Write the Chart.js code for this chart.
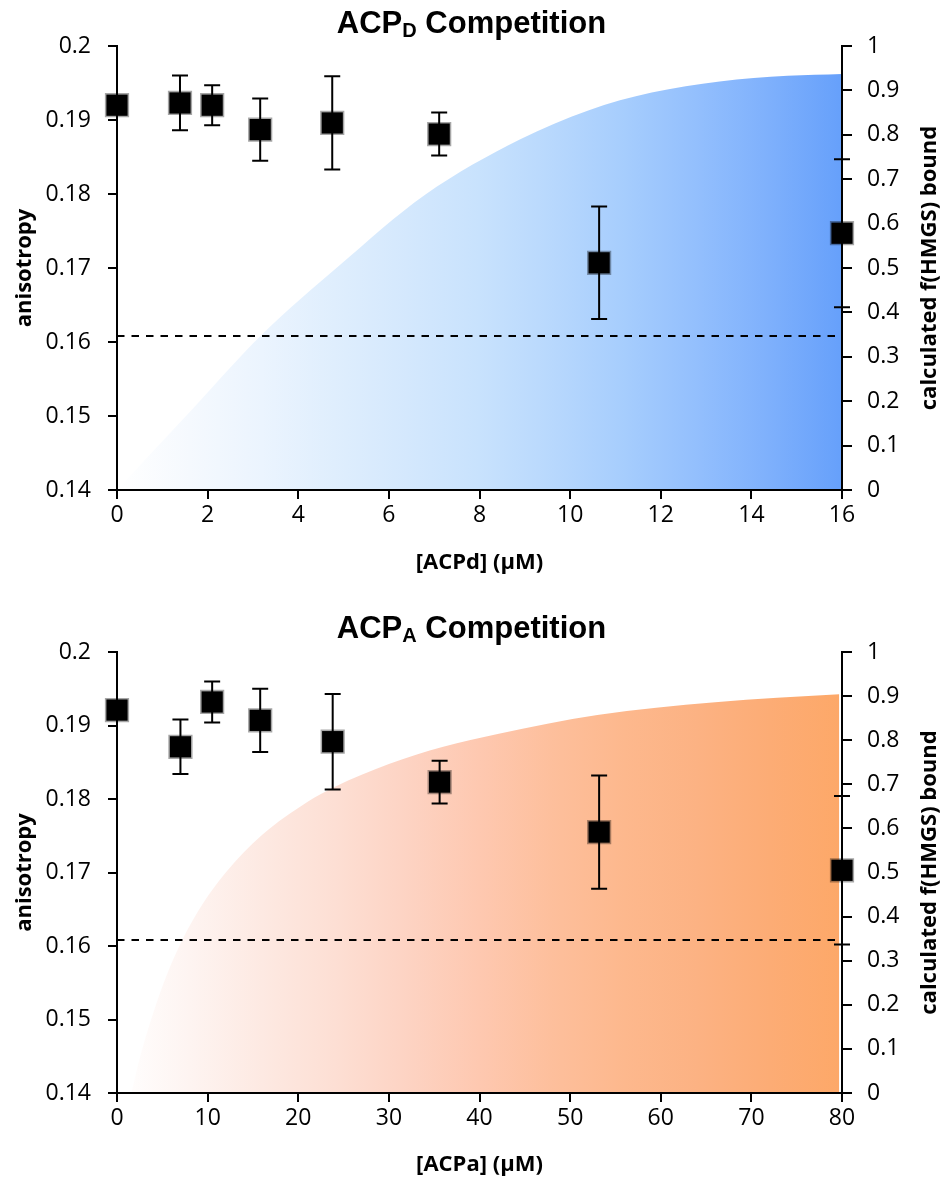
<!DOCTYPE html>
<html>
<head>
<meta charset="utf-8">
<script src="https://cdn.jsdelivr.net/npm/chart.js@4"></script>
<style>
  body { margin: 0; background: #fff; }
  .wrap { position: relative; width: 943px; height: 1183px; }
  canvas { position: absolute; left: 0; }
  #acpd { top: 0; }
  #acpa { top: 592px; }
  .ttl {
    position: absolute; left: 0; width: 943px; text-align: center; z-index: 2; white-space: nowrap;
    font: bold 31px "Liberation Sans", Arial, sans-serif; line-height: 31px; color: #000;
  }
  .ttl sub { font-size: 20px; vertical-align: -4px; line-height: 0; }
</style>
</head>
<body>
<div class="wrap">
  <div class="ttl" style="top:7px">ACP<sub>D</sub> Competition</div>
  <canvas id="acpd" width="943" height="592"></canvas>
  <div class="ttl" style="top:612px">ACP<sub>A</sub> Competition</div>
  <canvas id="acpa" width="943" height="591"></canvas>
</div>
<script>
// ACPd competition: measured anisotropy
const concD = [0, 1.39, 2.1, 3.16, 4.75, 7.11, 10.64, 16];
const anisoD = [0.192, 0.1923, 0.192, 0.1887, 0.1896, 0.1881, 0.1707, 0.1747];
const errD = [0, 0.0037, 0.0027, 0.0042, 0.0063, 0.0029, 0.0076, 0.01];
// calculated fraction HMGS bound
const curveDx = [0, 1.6, 3.2, 4.9, 6.8, 8.9, 10.4, 11.8, 13.3, 14.8, 16];
const curveDy = [0, 0.175, 0.35, 0.505, 0.665, 0.79, 0.855, 0.895, 0.92, 0.933, 0.937];

// ACPa competition
const concA = [0, 7, 10.5, 15.8, 23.8, 35.6, 53.2, 80];
const anisoA = [0.1921, 0.1871, 0.1932, 0.1907, 0.1878, 0.1823, 0.1755, 0.1703];
const errA = [0, 0.0037, 0.0028, 0.0043, 0.0065, 0.0029, 0.0077, 0.0101];
const curveAx = [1.6, 2.5, 3.9, 5.5, 7.2, 9.5, 12, 16, 21, 24, 30, 36, 42, 53, 66, 79.7];
const curveAy = [0, 0.078, 0.175, 0.268, 0.347, 0.43, 0.5, 0.585, 0.66, 0.694, 0.746, 0.785, 0.814, 0.857, 0.886, 0.904];

// baseline anisotropy (dashed)
const baseline = 0.1608;

const blueStops = ["#ffffff", "#f5f9fe", "#ebf4fe", "#dfeefd", "#d4e8fd", "#c8e2fd", "#b8d8fd", "#a6cdfd", "#93bffd", "#7eb0fc", "#66a0fb"];
const orangeStops = ["#ffffff", "#fef4f1", "#fde9e2", "#fddfd4", "#fdd3c3", "#fec8b0", "#fdbf9c", "#fdb88d", "#fcb283", "#fcac75", "#fda868"];

const tickFont = { family: "'Open Sans', sans-serif", size: 23 };
const titleFont = { family: "'Open Sans', sans-serif", size: 22, weight: "bold" };

const errorBars = {
  id: "errorBars",
  afterDatasetsDraw(chart) {
    const { ctx, scales } = chart;
    chart.data.datasets.forEach((ds, i) => {
      if (!ds.errors) return;
      const meta = chart.getDatasetMeta(i);
      const yScale = scales[meta.yAxisID];
      ctx.save();
      ctx.strokeStyle = "#000";
      ctx.lineWidth = 2;
      meta.data.forEach((pt, j) => {
        const e = ds.errors[j];
        if (!e) return;
        const v = ds.data[j].y;
        const top = yScale.getPixelForValue(v + e);
        const bot = yScale.getPixelForValue(v - e);
        ctx.beginPath();
        ctx.moveTo(pt.x, top);
        ctx.lineTo(pt.x, bot);
        ctx.moveTo(pt.x - 8, top);
        ctx.lineTo(pt.x + 8, top);
        ctx.moveTo(pt.x - 8, bot);
        ctx.lineTo(pt.x + 8, bot);
        ctx.stroke();
      });
      ctx.restore();
    });
  },
};

// right axis title reads bottom-to-top, so draw it here
const rightTitle = {
  id: "rightTitle",
  afterDraw(chart) {
    const { ctx, chartArea } = chart;
    ctx.save();
    ctx.translate(930, (chartArea.top + chartArea.bottom) / 2);
    ctx.rotate(-Math.PI / 2);
    ctx.font = "bold 22px 'Open Sans', sans-serif";
    ctx.fillStyle = "#000";
    ctx.textAlign = "center";
    ctx.textBaseline = "middle";
    ctx.fillText("calculated f(HMGS) bound", 0, 0);
    ctx.restore();
  },
};

const makeChart = (id, conc, aniso, err, cx, cy, stops, xMax, xStep, xLabel, padTop, xHeight, xPad) => {
  const gradient = (context) => {
    const { chart } = context;
    const area = chart.chartArea;
    if (!area) return null;
    const g = chart.ctx.createLinearGradient(area.left, 0, area.right, 0);
    stops.forEach((c, i) => g.addColorStop(i / (stops.length - 1), c));
    return g;
  };

  return new Chart(document.getElementById(id).getContext("2d"), {
    type: "scatter",
    data: {
      datasets: [
        {
          data: conc.map((x, i) => ({ x, y: aniso[i] })),
          errors: err,
          yAxisID: "y",
          pointStyle: "rect",
          pointRadius: 15,
          backgroundColor: "#000",
          borderColor: "rgba(0,0,0,0.35)",
          borderWidth: 3,
          clip: false,
          order: 0,
        },
        {
          type: "line",
          data: [{ x: 0, y: baseline }, { x: xMax, y: baseline }],
          yAxisID: "y",
          borderColor: "#000",
          borderWidth: 2,
          borderDash: [7.5, 7],
          pointRadius: 0,
          order: 1,
        },
        {
          type: "line",
          data: cx.map((x, i) => ({ x, y: cy[i] })),
          yAxisID: "y1",
          fill: "origin",
          backgroundColor: gradient,
          borderWidth: 0,
          borderColor: "rgba(0,0,0,0)",
          pointRadius: 0,
          cubicInterpolationMode: "monotone",
          order: 2,
        },
      ],
    },
    options: {
      responsive: false,
      animation: false,
      devicePixelRatio: 1,
      layout: { padding: { top: padTop, left: 0, right: 0, bottom: 0 } },
      plugins: {
        legend: { display: false },
        tooltip: { enabled: false },
        filler: { drawTime: "beforeDraw" },
      },
      scales: {
        x: {
          type: "linear",
          min: 0,
          max: xMax,
          afterFit: (s) => { s.height = xHeight; },
          ticks: { stepSize: xStep, color: "#000", font: tickFont, padding: 3, maxRotation: 0 },
          grid: { drawOnChartArea: false, tickLength: 9, color: "#000", lineWidth: 2 },
          border: { color: "#000", width: 2 },
          title: { display: true, text: xLabel, color: "#000", font: titleFont, padding: { top: 0, bottom: xPad } },
        },
        y: {
          type: "linear",
          position: "left",
          min: 0.14,
          max: 0.2,
          afterFit: (s) => { s.width = 117; },
          ticks: { stepSize: 0.01, color: "#000", font: tickFont, padding: 17, callback: (v) => String(+v.toFixed(2)) },
          grid: { drawOnChartArea: false, tickLength: 9, color: "#000", lineWidth: 2 },
          border: { color: "#000", width: 2 },
          title: { display: true, text: "anisotropy", color: "#000", font: titleFont, padding: { top: 12, bottom: 0 } },
        },
        y1: {
          type: "linear",
          position: "right",
          min: 0,
          max: 1,
          afterFit: (s) => { s.width = 101; },
          ticks: { stepSize: 0.1, color: "#000", font: tickFont, padding: 15, callback: (v) => String(+v.toFixed(1)) },
          grid: { drawOnChartArea: false, tickLength: 10, color: "#000", lineWidth: 2 },
          border: { color: "#000", width: 2 },
        },
      },
    },
    plugins: [errorBars, rightTitle],
  });
};

makeChart("acpd", concD, anisoD, errD, curveDx, curveDy, blueStops, 16, 2, "[ACPd] (µM)", 46, 102, 16);
makeChart("acpa", concA, anisoA, errA, curveAx, curveAy, orangeStops, 80, 10, "[ACPa] (µM)", 60, 90, 5);
</script>
</body>
</html>
